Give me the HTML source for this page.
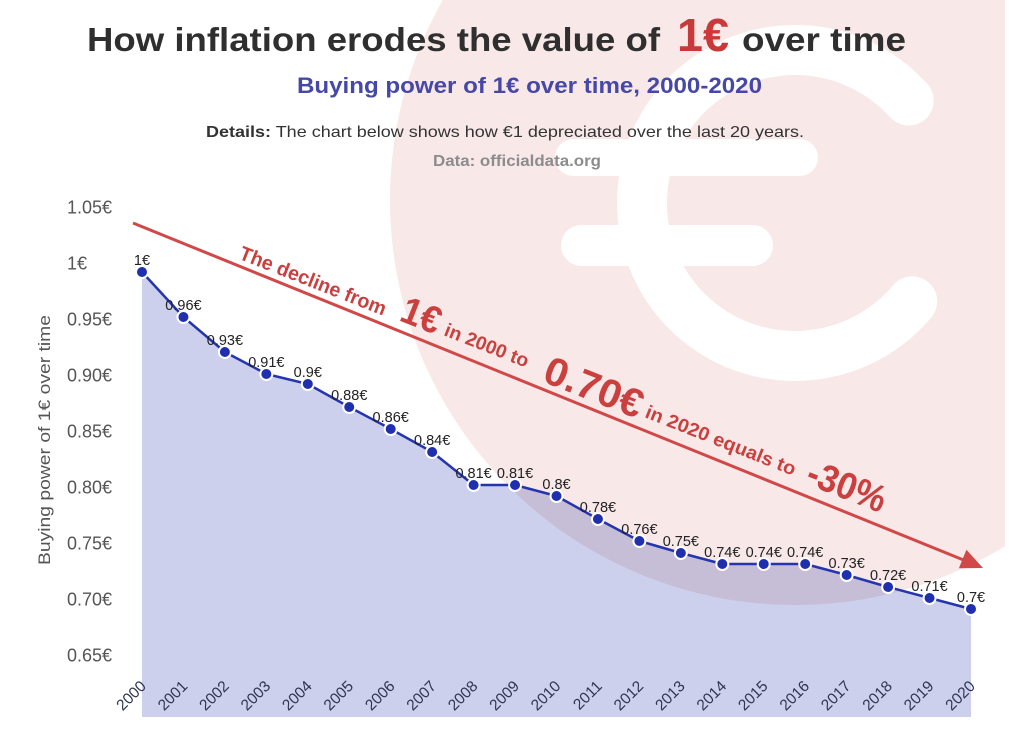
<!DOCTYPE html>
<html>
<head>
<meta charset="utf-8">
<style>
  html,body{margin:0;padding:0;background:#fff;}
  svg{display:block;}
  text{font-family:"Liberation Sans", Arial, sans-serif;}
</style>
</head>
<body>
<svg width="1024" height="743" viewBox="0 0 1024 743" xmlns="http://www.w3.org/2000/svg">
  <defs>
    <clipPath id="clipR"><rect x="0" y="0" width="1005" height="743"/></clipPath>
  </defs>
  <rect x="0" y="0" width="1024" height="743" fill="#ffffff"/>

  <!-- Background coin -->
  <circle cx="795" cy="200" r="405" fill="#f8e8e8" clip-path="url(#clipR)"/>
  <!-- White euro sign -->
  <path d="M908.7,100.6 A153,153 0 1 0 912.2,301.3" fill="none" stroke="#ffffff" stroke-width="50" stroke-linecap="round"/>
  <rect x="555" y="139" width="263" height="37" rx="18.5" fill="#ffffff"/>
  <rect x="561" y="225" width="212" height="41" rx="20.5" fill="#ffffff"/>

  <!-- Area fill -->
  <polygon style="mix-blend-mode:multiply" fill="#ccd0ec"
    points="142,272 183.45,317 224.9,352 266.35,374 307.8,384 349.25,407 390.7,429 432.15,452 473.6,485 515.05,485 556.5,496 597.95,519 639.4,541 680.85,553 722.3,564 763.75,564 805.2,564 846.65,575 888.1,587 929.55,598 971,609 971,717 142,717"/>

  <!-- Titles -->
  <text x="87" y="51" font-size="33" font-weight="bold" fill="#2f2f2f" textLength="573" lengthAdjust="spacingAndGlyphs">How inflation erodes the value of</text>
  <text x="677" y="51" font-size="46" font-weight="bold" fill="#c9393a" textLength="52" lengthAdjust="spacingAndGlyphs">1€</text>
  <text x="742" y="51" font-size="33" font-weight="bold" fill="#2f2f2f" textLength="164" lengthAdjust="spacingAndGlyphs">over time</text>

  <text x="297" y="93" font-size="22" font-weight="bold" fill="#4648a8" textLength="465" lengthAdjust="spacingAndGlyphs">Buying power of 1€ over time, 2000-2020</text>

  <text x="206" y="137" font-size="16" fill="#333333" textLength="598" lengthAdjust="spacingAndGlyphs"><tspan font-weight="bold">Details:</tspan> The chart below shows how €1 depreciated over the last 20 years.</text>

  <text x="433" y="166" font-size="16" font-weight="bold" fill="#8c8c8c" textLength="168" lengthAdjust="spacingAndGlyphs">Data: officialdata.org</text>

  <!-- Y axis tick labels -->
  <g font-size="18" fill="#555555">
    <text x="67" y="213.5">1.05€</text>
    <text x="67" y="269.5">1€</text>
    <text x="67" y="325.5">0.95€</text>
    <text x="67" y="381.5">0.90€</text>
    <text x="67" y="437.5">0.85€</text>
    <text x="67" y="493.5">0.80€</text>
    <text x="67" y="549.5">0.75€</text>
    <text x="67" y="605.5">0.70€</text>
    <text x="67" y="661.5">0.65€</text>
  </g>

  <!-- Y axis title -->
  <text transform="translate(50,440) rotate(-90)" text-anchor="middle" font-size="17" fill="#555555" textLength="250" lengthAdjust="spacingAndGlyphs">Buying power of 1€ over time</text>

  <!-- Arrow -->
  <line x1="133" y1="223" x2="966" y2="561" stroke="#d04848" stroke-width="3"/>
  <polygon points="983,568 966.4,549.8 958.9,568.3" fill="#d04848"/>

  <!-- Arrow text -->
  <g font-weight="bold" fill="#c9403f">
    <text transform="translate(238,258.5) rotate(21.5)" font-size="20" textLength="156" lengthAdjust="spacingAndGlyphs">The decline from</text>
    <text transform="translate(398,320) rotate(21.5)" font-size="38" textLength="40" lengthAdjust="spacingAndGlyphs">1€</text>
    <text transform="translate(443,335) rotate(21.5)" font-size="19" textLength="89" lengthAdjust="spacingAndGlyphs">in 2000 to</text>
    <text transform="translate(541,381) rotate(21.5)" font-size="40" textLength="103" lengthAdjust="spacingAndGlyphs">0.70€</text>
    <text transform="translate(644,417) rotate(21.5)" font-size="19" textLength="160" lengthAdjust="spacingAndGlyphs">in 2020 equals to</text>
    <text transform="translate(804,483) rotate(21.5)" font-size="38" textLength="82" lengthAdjust="spacingAndGlyphs">-30%</text>
  </g>

  <!-- Data line -->
  <polyline fill="none" stroke="#2535ac" stroke-width="2.5" stroke-linejoin="round"
    points="142,272 183.45,317 224.9,352 266.35,374 307.8,384 349.25,407 390.7,429 432.15,452 473.6,485 515.05,485 556.5,496 597.95,519 639.4,541 680.85,553 722.3,564 763.75,564 805.2,564 846.65,575 888.1,587 929.55,598 971,609"/>

  <!-- Dots -->
  <g fill="#1f2fae" stroke="#ffffff" stroke-width="2">
    <circle cx="142" cy="272" r="6"/>
    <circle cx="183.45" cy="317" r="6"/>
    <circle cx="224.9" cy="352" r="6"/>
    <circle cx="266.35" cy="374" r="6"/>
    <circle cx="307.8" cy="384" r="6"/>
    <circle cx="349.25" cy="407" r="6"/>
    <circle cx="390.7" cy="429" r="6"/>
    <circle cx="432.15" cy="452" r="6"/>
    <circle cx="473.6" cy="485" r="6"/>
    <circle cx="515.05" cy="485" r="6"/>
    <circle cx="556.5" cy="496" r="6"/>
    <circle cx="597.95" cy="519" r="6"/>
    <circle cx="639.4" cy="541" r="6"/>
    <circle cx="680.85" cy="553" r="6"/>
    <circle cx="722.3" cy="564" r="6"/>
    <circle cx="763.75" cy="564" r="6"/>
    <circle cx="805.2" cy="564" r="6"/>
    <circle cx="846.65" cy="575" r="6"/>
    <circle cx="888.1" cy="587" r="6"/>
    <circle cx="929.55" cy="598" r="6"/>
    <circle cx="971" cy="609" r="6"/>
  </g>

  <!-- Data labels -->
  <g font-size="14.5" fill="#222222" text-anchor="middle">
    <text x="142" y="265">1€</text>
    <text x="183.45" y="310">0.96€</text>
    <text x="224.9" y="345">0.93€</text>
    <text x="266.35" y="367">0.91€</text>
    <text x="307.8" y="377">0.9€</text>
    <text x="349.25" y="400">0.88€</text>
    <text x="390.7" y="422">0.86€</text>
    <text x="432.15" y="445">0.84€</text>
    <text x="473.6" y="478">0.81€</text>
    <text x="515.05" y="478">0.81€</text>
    <text x="556.5" y="489">0.8€</text>
    <text x="597.95" y="512">0.78€</text>
    <text x="639.4" y="534">0.76€</text>
    <text x="680.85" y="546">0.75€</text>
    <text x="722.3" y="557">0.74€</text>
    <text x="763.75" y="557">0.74€</text>
    <text x="805.2" y="557">0.74€</text>
    <text x="846.65" y="568">0.73€</text>
    <text x="888.1" y="580">0.72€</text>
    <text x="929.55" y="591">0.71€</text>
    <text x="971" y="602">0.7€</text>
  </g>

  <!-- X labels -->
  <g font-size="15.5" fill="#2e3350" text-anchor="end">
    <text transform="translate(147,687) rotate(-45)">2000</text>
    <text transform="translate(188.45,687) rotate(-45)">2001</text>
    <text transform="translate(229.9,687) rotate(-45)">2002</text>
    <text transform="translate(271.35,687) rotate(-45)">2003</text>
    <text transform="translate(312.8,687) rotate(-45)">2004</text>
    <text transform="translate(354.25,687) rotate(-45)">2005</text>
    <text transform="translate(395.7,687) rotate(-45)">2006</text>
    <text transform="translate(437.15,687) rotate(-45)">2007</text>
    <text transform="translate(478.6,687) rotate(-45)">2008</text>
    <text transform="translate(520.05,687) rotate(-45)">2009</text>
    <text transform="translate(561.5,687) rotate(-45)">2010</text>
    <text transform="translate(602.95,687) rotate(-45)">2011</text>
    <text transform="translate(644.4,687) rotate(-45)">2012</text>
    <text transform="translate(685.85,687) rotate(-45)">2013</text>
    <text transform="translate(727.3,687) rotate(-45)">2014</text>
    <text transform="translate(768.75,687) rotate(-45)">2015</text>
    <text transform="translate(810.2,687) rotate(-45)">2016</text>
    <text transform="translate(851.65,687) rotate(-45)">2017</text>
    <text transform="translate(893.1,687) rotate(-45)">2018</text>
    <text transform="translate(934.55,687) rotate(-45)">2019</text>
    <text transform="translate(976,687) rotate(-45)">2020</text>
  </g>
</svg>
</body>
</html>
